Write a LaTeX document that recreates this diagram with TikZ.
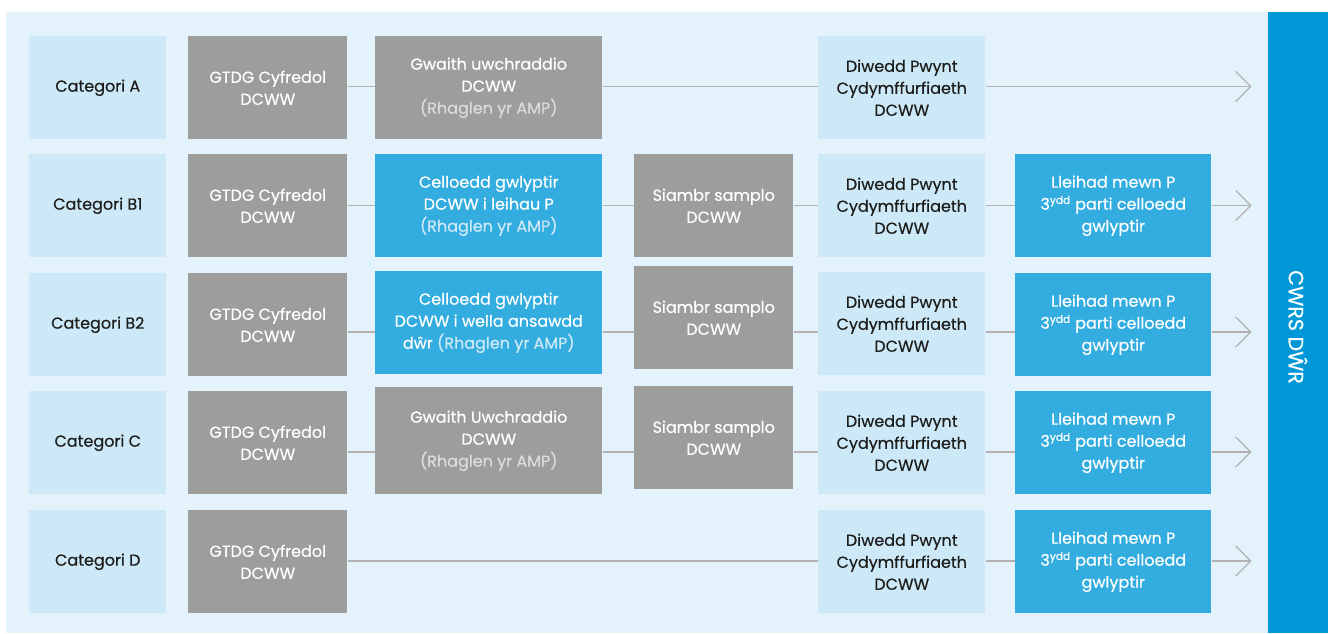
\documentclass[tikz,border=0pt]{standalone}
\usepackage{fontspec}
\setmainfont{Poppins}[FakeBold=0.4]
\usepackage{xcolor}
\usetikzlibrary{arrows.meta}

\definecolor{panel}{HTML}{E4F3FB}
\definecolor{pale}{HTML}{CDE9F7}
\definecolor{stone}{HTML}{9D9D9C}
\definecolor{sky}{HTML}{33ACDF}
\definecolor{deep}{HTML}{0098D6}
\definecolor{wire}{HTML}{B2B2B2}
\definecolor{ink}{HTML}{1D1D1B}
\definecolor{greynote}{HTML}{DCDCDC}
\definecolor{bluenote}{HTML}{CFEAF7}

\tikzset{
  card/.style={rectangle, anchor=north west, inner sep=0pt, align=center,
    minimum height=77.25pt, font=\fontsize{12}{16.5}\selectfont},
  catcard/.style={card, fill=pale, text=ink, minimum width=102.75pt},
  endcard/.style={card, fill=pale, text=ink, minimum width=125.25pt},
  greycard/.style={card, fill=stone, text=white, minimum width=#1},
  bluecard/.style={card, fill=sky, text=white, minimum width=#1},
  link/.style={draw=wire, line width=1.4pt},
  outlink/.style={link, -{Straight Barb[length=11.25pt, width=22.5pt, line width=0.9pt]}}
}

\newcommand{\prog}[1]{\textcolor{#1}{(Rhaglen yr AMP)}}
\newcommand{\thirdparty}{Lleihad mewn P\\3\textsuperscript{ydd} parti celloedd\\gwlyptir}

\begin{document}
\begin{tikzpicture}[x=0.75pt, y=-0.75pt]
        \useasboundingbox (0,0) rectangle (1328,633);
        % Background
        \fill[panel] (6,12) rectangle (1268,633);
        \fill[deep] (1268,12) rectangle (1328,633);
        \node[rotate=-90, text=white, font=\fontsize{15.5}{18}\selectfont] (cwrs) at (1298,327) {CWRS DŴR};

        % Nodes
        \node[catcard] (catA) at (29,36) {Categori A};
        \node[catcard] (catB1) at (29,154) {Categori B1};
        \node[catcard] (catB2) at (29,273) {Categori B2};
        \node[catcard] (catC) at (29,391) {Categori C};
        \node[catcard] (catD) at (29,510) {Categori D};

        \node[greycard=119.25pt] (gA) at (188,36) {GTDG Cyfredol\\DCWW};
        \node[greycard=119.25pt] (gB1) at (188,154) {GTDG Cyfredol\\DCWW};
        \node[greycard=119.25pt] (gB2) at (188,273) {GTDG Cyfredol\\DCWW};
        \node[greycard=119.25pt] (gC) at (188,391) {GTDG Cyfredol\\DCWW};
        \node[greycard=119.25pt] (gD) at (188,510) {GTDG Cyfredol\\DCWW};

        \node[greycard=170.25pt] (wA) at (375,36) {Gwaith uwchraddio\\DCWW\\\prog{greynote}};
        \node[bluecard=170.25pt] (cB1) at (375,154) {Celloedd gwlyptir\\DCWW i leihau P\\\prog{bluenote}};
        \node[bluecard=170.25pt] (cB2) at (375,271) {Celloedd gwlyptir\\DCWW i wella ansawdd\\dŵr \prog{bluenote}};
        \node[greycard=170.25pt, minimum height=80.25pt] (wC) at (375,387) {Gwaith Uwchraddio\\DCWW\\\prog{greynote}};

        \node[greycard=119.25pt] (sB1) at (634,154) {Siambr samplo\\DCWW};
        \node[greycard=119.25pt] (sB2) at (634,266) {Siambr samplo\\DCWW};
        \node[greycard=119.25pt] (sC) at (634,386) {Siambr samplo\\DCWW};

        \node[endcard] (dA) at (818,36) {Diwedd Pwynt\\Cydymffurfiaeth\\DCWW};
        \node[endcard] (dB1) at (818,154) {Diwedd Pwynt\\Cydymffurfiaeth\\DCWW};
        \node[endcard] (dB2) at (818,272) {Diwedd Pwynt\\Cydymffurfiaeth\\DCWW};
        \node[endcard] (dC) at (818,391) {Diwedd Pwynt\\Cydymffurfiaeth\\DCWW};
        \node[endcard] (dD) at (818,510) {Diwedd Pwynt\\Cydymffurfiaeth\\DCWW};

        \node[bluecard=147pt] (lB1) at (1015,154) {\thirdparty};
        \node[bluecard=147pt] (lB2) at (1015,273) {\thirdparty};
        \node[bluecard=147pt] (lC) at (1015,391) {\thirdparty};
        \node[bluecard=147pt] (lD) at (1015,510) {\thirdparty};

        % Arrow ends
        \coordinate (tA) at (1251.5,86.5);
        \coordinate (tB1) at (1251.5,205.5);
        \coordinate (tB2) at (1251.5,332);
        \coordinate (tC) at (1251.5,452);
        \coordinate (tD) at (1251.5,561);

        % Edges
        \draw[link] (gA.east |- tA) -- (wA.west |- tA);
        \draw[link] (wA.east |- tA) -- (dA.west |- tA);
        \draw[outlink] (dA.east |- tA) -- (tA);

        \draw[link] (gB1.east |- tB1) -- (cB1.west |- tB1);
        \draw[link] (cB1.east |- tB1) -- (sB1.west |- tB1);
        \draw[link] (sB1.east |- tB1) -- (dB1.west |- tB1);
        \draw[link] (dB1.east |- tB1) -- (lB1.west |- tB1);
        \draw[outlink] (lB1.east |- tB1) -- (tB1);

        \draw[link] (gB2.east |- tB2) -- (cB2.west |- tB2);
        \draw[link] (cB2.east |- tB2) -- (sB2.west |- tB2);
        \draw[link] (sB2.east |- tB2) -- (dB2.west |- tB2);
        \draw[link] (dB2.east |- tB2) -- (lB2.west |- tB2);
        \draw[outlink] (lB2.east |- tB2) -- (tB2);

        \draw[link] (gC.east |- tC) -- (wC.west |- tC);
        \draw[link] (wC.east |- tC) -- (sC.west |- tC);
        \draw[link] (sC.east |- tC) -- (dC.west |- tC);
        \draw[link] (dC.east |- tC) -- (lC.west |- tC);
        \draw[outlink] (lC.east |- tC) -- (tC);

        \draw[link] (gD.east |- tD) -- (dD.west |- tD);
        \draw[link] (dD.east |- tD) -- (lD.west |- tD);
        \draw[outlink] (lD.east |- tD) -- (tD);
    \end{tikzpicture}
\end{document}
